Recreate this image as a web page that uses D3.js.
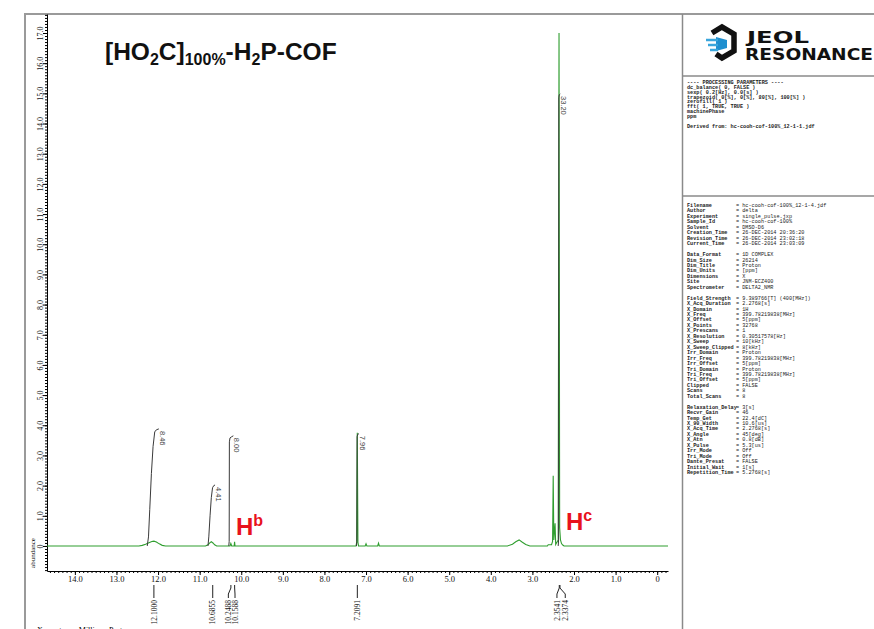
<!DOCTYPE html>
<html>
<head>
<meta charset="utf-8">
<script src="https://cdn.jsdelivr.net/npm/d3@7"></script>
<style>
  body { margin: 0; background: #fff; }
  svg { display: block; }
</style>
</head>
<body>
<div id="chart"></div>
<script>
// ---- data ----
// spectrum trace, [ppm, abundance]
const spectrum = [
    [14.67, 0], [12.46, 0], [12.38, 0.02], [12.30, 0.06], [12.22, 0.11], [12.15, 0.15], [12.10, 0.16],
    [12.04, 0.13], [11.97, 0.07], [11.90, 0.02], [11.82, 0],
    [10.86, 0], [10.80, 0.04], [10.75, 0.11], [10.72, 0.14], [10.68, 0.10], [10.64, 0.04], [10.59, 0],
    [10.27, 0], [10.25, 0.08], [10.23, 0], [10.17, 0], [10.16, 0.14], [10.15, 0],
    [7.24, 0], [7.225, 0.12], [7.21, 3.75], [7.195, 0.12], [7.18, 0],
    [7.02, 0], [7.00, 0.07], [6.98, 0], [6.72, 0], [6.70, 0.09], [6.68, 0],
    [3.60, 0], [3.48, 0.06], [3.40, 0.14], [3.32, 0.2], [3.25, 0.13], [3.16, 0.05], [3.06, 0],
    [2.64, 0], [2.62, 0.04], [2.54, 0.04], [2.515, 0.15], [2.50, 2.33], [2.485, 0.2], [2.455, 0.75],
    [2.44, 0.05], [2.38, 0.2], [2.36, 17.0], [2.345, 0.6], [2.325, 0.2], [2.30, 0.08], [2.27, 0.03],
    [2.24, 0], [-0.26, 0]
];

// integral curves, [ppm, abundance]
const integralLabels = ["8.46", "4.41", "8.00", "7.96", "33.20"];
const integralCurves = [
    [[12.26, 0], [12.23, 0.3], [12.20, 1.2], [12.16, 2.4], [12.12, 3.3], [12.08, 3.78], [12.04, 3.85], [11.98, 3.88]],
    [[10.80, 0], [10.78, 0.3], [10.75, 1.0], [10.72, 1.6], [10.69, 1.93], [10.66, 2.0], [10.63, 2.02]],
    [[10.30, 0], [10.29, 0.15], [10.285, 3.45], [10.27, 3.58], [10.23, 3.62], [10.19, 3.65]],
    [[7.23, 0], [7.22, 0.15], [7.215, 3.62], [7.20, 3.7], [7.17, 3.72]],
    [[2.38, 0], [2.37, 0.2], [2.365, 14.85], [2.355, 14.95], [2.33, 14.98]]
];

// picked peaks below the axis
const peakPpm = [12.1000, 10.6855, 10.2488, 10.1588, 7.2091, 2.3541, 2.3374];
const peakLabelPpm = [12.1000, 10.6855, 10.31, 10.15, 7.2091, 2.41, 2.21];
const peakLabels = ["12.1000", "10.6855", "10.2488", "10.1588", "7.2091", "2.3541", "2.3374"];

// axis ticks
const yTickValues = d3.range(0, 18);
const xTickValues = d3.range(0, 15);

// parameter panel text
const procParams = [
    "---- PROCESSING PARAMETERS ----",
    "dc_balance( 0, FALSE )",
    "sexp( 0.2[Hz], 0.0[s] )",
    "trapezoid( 0[%], 0[%], 80[%], 100[%] )",
    "zerofill( 1 )",
    "fft( 1, TRUE, TRUE )",
    "machinePhase",
    "ppm",
    "",
    "Derived from: hc-cooh-cof-100%_12-1-1.jdf"
];
const paramKeys = [
    "Filename", "Author", "Experiment", "Sample_Id", "Solvent", "Creation_Time", "Revision_Time", "Current_Time", "",
    "Data_Format", "Dim_Size", "Dim_Title", "Dim_Units", "Dimensions", "Site", "Spectrometer", "",
    "Field_Strength", "X_Acq_Duration", "X_Domain", "X_Freq", "X_Offset", "X_Points", "X_Prescans",
    "X_Resolution", "X_Sweep", "X_Sweep_Clipped", "Irr_Domain", "Irr_Freq", "Irr_Offset", "Tri_Domain",
    "Tri_Freq", "Tri_Offset", "Clipped", "Scans", "Total_Scans", "",
    "Relaxation_Delay", "Recvr_Gain", "Temp_Get", "X_90_Width", "X_Acq_Time", "X_Angle", "X_Atn",
    "X_Pulse", "Irr_Mode", "Tri_Mode", "Dante_Presat", "Initial_Wait", "Repetition_Time"
];
const paramValues = [
    "hc-cooh-cof-100%_12-1-4.jdf", "delta", "single_pulse.jxp", "hc-cooh-cof-100%", "DMSO-D6",
    "26-DEC-2014 20:36:20", "26-DEC-2014 23:02:18", "26-DEC-2014 23:03:09", "",
    "1D COMPLEX", "26214", "Proton", "[ppm]", "X", "JNM-ECZ400", "DELTA2_NMR", "",
    "9.389766[T] (400[MHz])", "2.2768[s]", "1H", "399.78219838[MHz]", "5[ppm]", "32768", "1",
    "0.30517578[Hz]", "10[kHz]", "8[kHz]", "Proton", "399.78219838[MHz]", "5[ppm]", "Proton",
    "399.78219838[MHz]", "5[ppm]", "FALSE", "8", "8", "",
    "3[s]", "46", "22.4[dC]", "10.6[us]", "2.2768[s]", "45[deg]", "0.8[dB]",
    "5.3[us]", "Off", "Off", "FALSE", "1[s]", "5.2768[s]"
];

// ---- drawing ----
const width = 874, height = 629;
const green = "#2f9e2f";

const svg = d3.select("#chart").append("svg")
    .attr("width", width)
    .attr("height", height)
    .style("background", "#fff");

const x = d3.scaleLinear().domain([14.67, -0.26]).range([47, 668]);
const y = d3.scaleLinear().domain([-0.83, 17.63]).range([571, 14]);

// page frame
svg.append("line").attr("x1", 25).attr("x2", 25).attr("y1", 13).attr("y2", height)
    .attr("stroke", "#9a9a9a").attr("stroke-width", 2);
svg.append("line").attr("x1", 24).attr("x2", width).attr("y1", 14).attr("y2", 14)
    .attr("stroke", "#9a9a9a").attr("stroke-width", 2);
svg.append("line").attr("x1", 682.5).attr("x2", 682.5).attr("y1", 14).attr("y2", height)
    .attr("stroke", "#8a8a8a").attr("stroke-width", 1.5);
svg.append("line").attr("x1", 682).attr("x2", width).attr("y1", 76).attr("y2", 76)
    .attr("stroke", "#8a8a8a").attr("stroke-width", 1.5);
svg.append("line").attr("x1", 682).attr("x2", width).attr("y1", 196).attr("y2", 196)
    .attr("stroke", "#8a8a8a").attr("stroke-width", 1.5);

// minor ticks
svg.append("g")
    .attr("transform", "translate(47,0)")
    .call(d3.axisLeft(y).tickValues(d3.range(-8, 177).map(i => i / 10)).tickSize(2).tickFormat(""))
    .call(g => g.select(".domain").remove());
svg.append("g")
    .attr("transform", "translate(0,571)")
    .call(d3.axisBottom(x).tickValues(d3.range(-2, 147).map(i => i / 10)).tickSize(2).tickFormat(""))
    .call(g => g.select(".domain").remove());

// major y axis
const yAxisG = svg.append("g")
    .attr("transform", "translate(47,0)")
    .call(d3.axisLeft(y).tickValues(yTickValues).tickSize(4).tickSizeOuter(0)
        .tickFormat(d => d === 0 ? "0" : d.toFixed(1)));
yAxisG.selectAll("text")
    .attr("x", 0).attr("dy", 0)
    .attr("text-anchor", "middle")
    .attr("transform", "translate(-4,0) rotate(-90)")
    .style("font-family", "'Liberation Serif', serif")
    .style("font-size", "8px")
    .attr("fill", "#111");

// major x axis
const xAxisG = svg.append("g")
    .attr("transform", "translate(0,571)")
    .call(d3.axisBottom(x).tickValues(xTickValues).tickSize(4).tickSizeOuter(0)
        .tickFormat(d => d === 0 ? "0" : d.toFixed(1)));
xAxisG.selectAll("text")
    .attr("y", 5)
    .style("font-family", "'Liberation Serif', serif")
    .style("font-size", "8.5px")
    .attr("fill", "#111");

svg.append("text")
    .attr("transform", "translate(35,553) rotate(-90)")
    .attr("text-anchor", "middle")
    .style("font-family", "'Liberation Serif', serif")
    .style("font-size", "7px")
    .text("abundance");

// spectrum
const line = d3.line().x(d => x(d[0])).y(d => y(d[1]));
svg.append("path")
    .datum(spectrum)
    .attr("d", line)
    .attr("fill", "none")
    .attr("stroke", green)
    .attr("stroke-width", 1.1);

// integrals
const integrals = svg.append("g").selectAll("g")
    .data(integralCurves)
    .join("g");
integrals.append("path")
    .attr("d", d => line(d))
    .attr("fill", "none")
    .attr("stroke", "#3a3a3a")
    .attr("stroke-width", 1);
integrals.append("text")
    .attr("transform", d => {
        const last = d[d.length - 1];
        return `translate(${x(last[0]) + 1},${y(last[1]) + 2}) rotate(90)`;
    })
    .style("font-family", "'Liberation Sans', sans-serif")
    .style("font-size", "7.5px")
    .attr("fill", "#444")
    .text((d, i) => integralLabels[i]);

// peak picks under the axis
const picks = svg.append("g").selectAll("g")
    .data(peakPpm)
    .join("g");
picks.append("path")
    .attr("d", (d, i) => {
        const px = x(d), lx = x(peakLabelPpm[i]);
        return `M${px},585 L${px},588 L${lx},594 L${lx},598`;
    })
    .attr("fill", "none")
    .attr("stroke", "#222")
    .attr("stroke-width", 1);
picks.append("text")
    .attr("transform", (d, i) => `translate(${x(peakLabelPpm[i]) + 2.7},600) rotate(-90)`)
    .attr("text-anchor", "end")
    .style("font-family", "'Liberation Serif', serif")
    .style("font-size", "7.5px")
    .attr("fill", "#111")
    .text((d, i) => peakLabels[i]);

svg.append("text")
    .attr("x", 37).attr("y", 633)
    .style("font-family", "'Liberation Serif', serif")
    .style("font-size", "8px")
    .text("X : parts per Million : Proton");

// title
const title = svg.append("text")
    .attr("x", 105).attr("y", 60)
    .style("font-family", "'Liberation Sans', Arial, sans-serif")
    .style("font-weight", "bold")
    .style("font-size", "24.5px")
    .attr("fill", "#111");
title.append("tspan").text("[HO");
title.append("tspan").attr("dy", 5).style("font-size", "16px").text("2");
title.append("tspan").attr("dy", -5).text("C]");
title.append("tspan").attr("dy", 5).style("font-size", "16px").text("100%");
title.append("tspan").attr("dy", -5).text("-H");
title.append("tspan").attr("dy", 5).style("font-size", "16px").text("2");
title.append("tspan").attr("dy", -5).text("P-COF");

// proton assignments
function protonLabel(px, py, sup) {
    const t = svg.append("text")
        .attr("x", px).attr("y", py)
        .style("font-family", "'Liberation Sans', Arial, sans-serif")
        .style("font-weight", "bold")
        .style("font-size", "24px")
        .attr("fill", "#e8121c");
    t.append("tspan").text("H");
    t.append("tspan").attr("dy", -9).style("font-size", "16px").text(sup);
}
protonLabel(236, 535, "b");
protonLabel(566, 530, "c");

// JEOL logo
const logo = svg.append("g");
logo.append("path")
    .attr("d", "M712,33 L722,27 L734,34 L734,51 L722,58 L716,54")
    .attr("fill", "none")
    .attr("stroke", "#111")
    .attr("stroke-width", 5.5)
    .attr("stroke-linejoin", "miter");
logo.append("path")
    .attr("d", "M716,37 L727,40 L727,48 L716,51 Z")
    .attr("fill", "#1f8fcf");
[40, 45, 50].forEach((yy, i) => {
    logo.append("line")
        .attr("x1", 706 + i * 2).attr("x2", 718).attr("y1", yy).attr("y2", yy)
        .attr("stroke", "#3aa6dc").attr("stroke-width", 2.5);
});
logo.append("text")
    .attr("x", 747).attr("y", 43)
    .attr("textLength", 62).attr("lengthAdjust", "spacingAndGlyphs")
    .style("font-family", "'DejaVu Sans', sans-serif")
    .style("font-weight", "bold")
    .style("font-size", "15px")
    .attr("fill", "#111")
    .text("JEOL");
logo.append("text")
    .attr("x", 745).attr("y", 60)
    .attr("textLength", 128).attr("lengthAdjust", "spacingAndGlyphs")
    .style("font-family", "'DejaVu Sans', sans-serif")
    .style("font-weight", "bold")
    .style("font-size", "15px")
    .attr("fill", "#111")
    .text("RESONANCE");

// parameter text
const mono = "'Liberation Mono', 'DejaVu Sans Mono', monospace";
svg.append("g").selectAll("text")
    .data(procParams)
    .join("text")
    .attr("x", 687)
    .attr("y", (d, i) => 84 + i * 4.85)
    .style("font-family", mono)
    .style("font-size", "5.2px")
    .style("font-weight", "bold")
    .attr("fill", "#222")
    .text(d => d);

const rows = svg.append("g").selectAll("g")
    .data(paramKeys)
    .join("g")
    .attr("transform", (d, i) => `translate(0,${207 + i * 5.45})`);
rows.append("text")
    .attr("x", 687)
    .style("font-family", mono)
    .style("font-size", "5.2px")
    .style("font-weight", "bold")
    .attr("fill", "#222")
    .text(d => d);
rows.append("text")
    .attr("x", 736)
    .style("font-family", mono)
    .style("font-size", "5.2px")
    .attr("fill", "#222")
    .text((d, i) => d ? "= " + paramValues[i] : "");
</script>
</body>
</html>
